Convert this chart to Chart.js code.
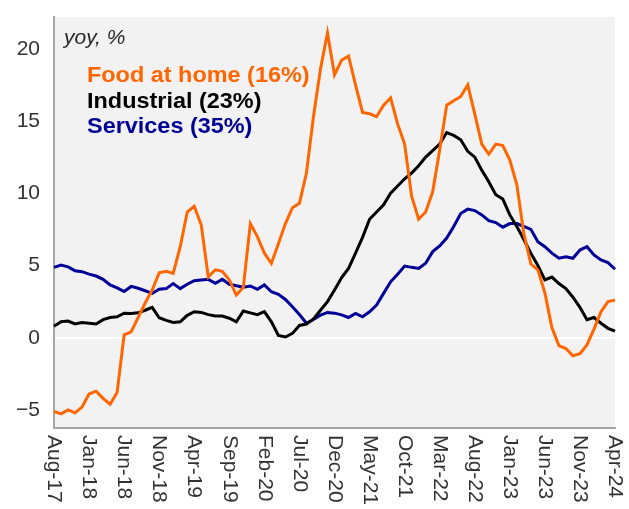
<!DOCTYPE html>
<html>
<head>
<meta charset="utf-8">
<script src="https://cdn.jsdelivr.net/npm/chart.js@4.4.1/dist/chart.umd.min.js"></script>
<style>
  html, body { margin: 0; padding: 0; background: #fff; }
  #wrap { width: 629px; height: 509px; }
</style>
</head>
<body>
<div id="wrap"><canvas id="chart"></canvas></div>
<script>
// monthly, Aug-17 .. Apr-24
const monthNames = ['Jan','Feb','Mar','Apr','May','Jun','Jul','Aug','Sep','Oct','Nov','Dec'];
const months = [];
for (let k = 7; k <= 7 + 80; k++) {
  months.push(monthNames[k % 12] + '-' + (17 + Math.floor(k / 12)));
}
const labelEvery = 5;

const foodAtHome = [
  -5.1, -5.27, -5.0, -5.2, -4.8, -3.9, -3.7, -4.2, -4.6, -3.8,
  0.2, 0.4, 1.4, 2.4, 3.3, 4.5, 4.6, 4.45, 6.3, 8.7,
  9.1, 7.8, 4.2, 4.7, 4.6, 4.0, 2.95, 3.5, 7.9, 7.0,
  5.85, 5.15, 6.5, 7.9, 9.0, 9.3, 11.4, 15.3, 18.6, 21.1,
  18.2, 19.2, 19.5, 17.5, 15.6, 15.5, 15.3, 16.1, 16.6, 14.8,
  13.4, 9.8, 8.2, 8.7, 10.1, 13.0, 16.1, 16.4, 16.7, 17.5,
  15.5, 13.4, 12.7, 13.4, 13.3, 12.3, 10.6, 7.2, 5.1, 4.7,
  3.1, 0.7, -0.55, -0.75, -1.25, -1.1, -0.5, 0.6, 1.8, 2.5, 2.6
];
const industrial = [
  0.8, 1.1, 1.15, 0.95, 1.05, 1.0, 0.95, 1.25, 1.4, 1.45,
  1.7, 1.68, 1.72, 1.9, 2.1, 1.38, 1.2, 1.05, 1.1, 1.55,
  1.8, 1.75, 1.6, 1.5, 1.5, 1.35, 1.1, 1.85, 1.72, 1.6,
  1.8, 1.1, 0.15, 0.05, 0.3, 0.85, 0.95, 1.3, 1.9, 2.5,
  3.3, 4.15, 4.8, 5.85, 6.95, 8.2, 8.7, 9.2, 10.0, 10.5,
  11.0, 11.4, 11.9, 12.5, 12.95, 13.4, 14.2, 14.0, 13.7, 12.9,
  12.5, 11.6, 10.8, 9.9, 9.6, 8.5, 7.7, 6.8, 5.85, 5.0,
  4.0, 4.2, 3.75, 3.4, 2.8, 2.1, 1.25, 1.4, 1.0, 0.65, 0.45
];
const services = [
  4.87, 5.03, 4.9, 4.64, 4.57, 4.4, 4.27, 4.04, 3.65, 3.45,
  3.2, 3.55, 3.42, 3.25, 3.07, 3.35, 3.4, 3.75, 3.4, 3.7,
  3.95, 4.0, 4.04, 3.76, 4.04, 3.7, 3.6, 3.5, 3.58, 3.35,
  3.65, 3.18, 3.0, 2.65, 2.14, 1.6, 1.0, 1.26, 1.56, 1.75,
  1.7, 1.58, 1.4, 1.68, 1.45, 1.79, 2.26, 3.07, 3.87, 4.4,
  4.96, 4.87, 4.8, 5.15, 5.96, 6.35, 6.9, 7.7, 8.6, 8.9,
  8.8, 8.5, 8.1, 7.97, 7.65, 7.9, 7.9, 7.7, 7.5, 6.65,
  6.3, 5.85, 5.5, 5.6, 5.5, 6.07, 6.3, 5.73, 5.38, 5.2, 4.74
];

const seriesNames = ['Food at home (16%)', 'Industrial (23%)', 'Services (35%)'];
const seriesColors = ['#ff6600', '#000000', '#000099'];
const unitLabel = 'yoy, %';

const tickFont = '21px "Liberation Sans", Arial, sans-serif';
const tickColor = '#333333';
const axisColor = '#a6a6a6';

const chartDecor = {
  id: 'chartDecor',
  beforeDraw(chart) {
    const { ctx, chartArea: a } = chart;
    ctx.save();
    ctx.fillStyle = '#f2f2f2';
    ctx.fillRect(a.left, a.top, a.right - a.left, a.bottom - a.top);
    ctx.restore();
  },
  afterDraw(chart) {
    const { ctx, chartArea: a } = chart;
    const x = chart.scales.x;
    ctx.save();
    // rotated month labels, reading downwards
    ctx.font = tickFont;
    ctx.fillStyle = tickColor;
    ctx.textAlign = 'left';
    ctx.textBaseline = 'middle';
    months.forEach((m, i) => {
      if (i % labelEvery !== 0) return;
      ctx.save();
      ctx.translate(x.getPixelForValue(i), a.bottom + 7);
      ctx.rotate(Math.PI / 2);
      ctx.fillText(m, 0, 0);
      ctx.restore();
    });
    // unit + legend text inside the plot (source text is a bit wide)
    ctx.font = 'italic 21px "Liberation Sans", Arial, sans-serif';
    ctx.fillStyle = '#262626';
    ctx.fillText(unitLabel, a.left + 10, 38);
    ctx.font = 'bold 22px "Liberation Sans", Arial, sans-serif';
    seriesNames.forEach((n, i) => {
      ctx.save();
      ctx.translate(a.left + 33, 76 + i * 25.5);
      ctx.scale(1.065, 1);
      ctx.fillStyle = seriesColors[i];
      ctx.fillText(n, 0, 0);
      ctx.restore();
    });
    ctx.restore();
  }
};

new Chart(document.getElementById('chart').getContext('2d'), {
  type: 'line',
  data: {
    labels: months,
    datasets: [
      { label: seriesNames[0], data: foodAtHome, borderColor: seriesColors[0] },
      { label: seriesNames[1], data: industrial, borderColor: seriesColors[1] },
      { label: seriesNames[2], data: services, borderColor: seriesColors[2] }
    ]
  },
  options: {
    responsive: true,
    maintainAspectRatio: false,
    animation: false,
    layout: { padding: { top: 17, right: 14, left: 0, bottom: 0 } },
    elements: {
      line: { borderWidth: 3, tension: 0 },
      point: { radius: 0 }
    },
    plugins: {
      legend: { display: false },
      tooltip: { enabled: false }
    },
    scales: {
      x: {
        type: 'category',
        offset: false,
        ticks: { display: false },
        grid: { display: false, drawTicks: false },
        border: { display: true, color: axisColor, width: 2 },
        afterFit(scale) { scale.height = 81; scale.paddingLeft = 0; scale.paddingRight = 0; }
      },
      y: {
        min: -6.25,
        max: 22.2,
        ticks: {
          stepSize: 5,
          includeBounds: false,
          padding: 14,
          color: tickColor,
          font: { family: '"Liberation Sans", Arial, sans-serif', size: 21 },
          callback: v => String(v).replace('-', '\u2212')
        },
        grid: {
          drawTicks: false,
          lineWidth: 2,
          color: ctx => ctx.tick && ctx.tick.value === 0 ? '#ffffff' : 'rgba(0,0,0,0)'
        },
        border: { display: true, color: axisColor, width: 2 },
        afterFit(scale) { scale.width = 54; scale.paddingTop = 0; scale.paddingBottom = 0; }
      }
    }
  },
  plugins: [chartDecor]
});
</script>
</body>
</html>
